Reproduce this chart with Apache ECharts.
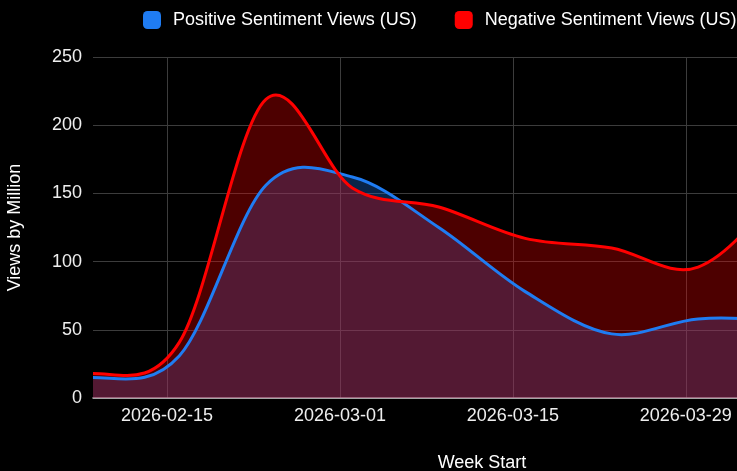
<!DOCTYPE html>
<html>
<head>
<meta charset="utf-8">
<title>Sentiment Views (US)</title>
<script src="https://cdn.jsdelivr.net/npm/echarts@6/dist/echarts.min.js"></script>
<style>
  html, body { margin: 0; padding: 0; background: #000; overflow: hidden; }
  /* the original chart is wider than the window, its right part is cut off */
  #chart { width: 871px; height: 471px; }
</style>
</head>
<body>
<div id="chart"></div>
<script>
// weekly data, week start dates
var weeks = ["2026-02-09", "2026-02-16", "2026-02-23", "2026-03-02", "2026-03-09",
             "2026-03-16", "2026-03-23", "2026-03-30", "2026-04-06"];
var positiveViews = [15, 31, 156, 162, 125, 78, 47, 58, 56];
var negativeViews = [18, 41, 219, 154, 140, 117, 110, 96, 157];
var dateTicks = ["2026-02-15", "2026-03-01", "2026-03-15", "2026-03-29"];

var POS = "Positive Sentiment Views (US)";
var NEG = "Negative Sentiment Views (US)";
var blue = "#1f7cf2";
var red = "#ff0000";
var font = "'Liberation Sans', Arial, sans-serif";

function pairs(vals) {
    return weeks.map(function(w, i) { return [w, vals[i]]; });
}

// catmull-rom curve through the data points (like the sheets "smooth" line)
// flat start, natural spline condition at the end
function curve(api, n) {
    var pts = [];
    for (var i = 0; i < n; i++) {
        pts.push(api.coord([api.value(0, i), api.value(1, i)]));
    }
    var m = [];
    for (var k = 1; k < n - 1; k++) {
        m[k] = [(pts[k + 1][0] - pts[k - 1][0]) / 2, (pts[k + 1][1] - pts[k - 1][1]) / 2];
    }
    m[0] = [pts[1][0] - pts[0][0], 0];
    m[n - 1] = [(3 * (pts[n - 1][0] - pts[n - 2][0]) - m[n - 2][0]) / 2,
                (3 * (pts[n - 1][1] - pts[n - 2][1]) - m[n - 2][1]) / 2];
    var d = "M" + pts[0][0] + " " + pts[0][1];
    for (var j = 0; j < n - 1; j++) {
        d += " C" + (pts[j][0] + m[j][0] / 3) + " " + (pts[j][1] + m[j][1] / 3) +
             " " + (pts[j + 1][0] - m[j + 1][0] / 3) + " " + (pts[j + 1][1] - m[j + 1][1] / 3) +
             " " + pts[j + 1][0] + " " + pts[j + 1][1];
    }
    var base = api.coord([api.value(0, 0), 0])[1];
    return {
        line: d,
        area: d + " L" + pts[n - 1][0] + " " + base + " L" + pts[0][0] + " " + base + " Z"
    };
}

function smoothSeries(name, vals, color, z, filled) {
    return {
        name: name,
        type: "custom",
        z: z,
        silent: true,
        clip: true,
        itemStyle: { color: color },
        encode: { x: 0, y: 1 },
        data: pairs(vals),
        renderItem: function(params, api) {
            if (params.dataIndex !== 0) return null;
            var c = curve(api, vals.length);
            if (filled) {
                return {
                    type: "path",
                    shape: { pathData: c.area },
                    style: { fill: color, opacity: 0.3, stroke: null }
                };
            }
            return {
                type: "path",
                shape: { pathData: c.line },
                style: { fill: "none", stroke: color, lineWidth: 3, lineJoin: "round" }
            };
        }
    };
}

var chart = echarts.init(document.getElementById("chart"));

chart.setOption({
    backgroundColor: "#000",
    animation: false,
    textStyle: { fontFamily: font },
    legend: {
        data: [POS, NEG],
        top: 11,
        left: 143,
        padding: 0,
        icon: "roundRect",
        itemWidth: 18,
        itemHeight: 18,
        itemGap: 38,
        itemStyle: { borderWidth: 0 },
        textStyle: {
            color: "#fff",
            fontSize: 18,
            fontFamily: font,
            padding: [0, 0, 0, 7]
        }
    },
    grid: {
        left: 93,
        right: 0,
        top: 57,
        bottom: 73,
        outerBoundsMode: "none"
    },
    xAxis: {
        type: "time",
        min: "2026-02-09",
        max: "2026-04-13",
        name: "Week Start",
        nameLocation: "middle",
        nameGap: 56,
        nameTextStyle: { color: "#fff", fontSize: 18, fontFamily: font },
        axisLine: { show: true, lineStyle: { color: "#c8c8c8", width: 1.5 } },
        axisTick: { show: false, customValues: dateTicks },
        axisLabel: {
            customValues: dateTicks,
            formatter: "{yyyy}-{MM}-{dd}",
            color: "#eee",
            fontSize: 18,
            fontFamily: font,
            margin: 9
        },
        splitLine: { show: true, lineStyle: { color: "#3c3c3c", width: 1 } }
    },
    yAxis: {
        type: "value",
        min: 0,
        max: 250,
        interval: 50,
        name: "Views by Million",
        nameLocation: "middle",
        nameRotate: 90,
        nameGap: 69,
        nameTextStyle: { color: "#fff", fontSize: 18, fontFamily: font },
        axisLine: { show: false },
        axisTick: { show: false },
        axisLabel: { color: "#eee", fontSize: 18, fontFamily: font, margin: 11 },
        splitLine: { lineStyle: { color: "#3c3c3c", width: 1 } }
    },
    series: [
        // lines on top, areas underneath
        smoothSeries(POS, positiveViews, blue, 4, false),
        smoothSeries(NEG, negativeViews, red, 5, false),
        smoothSeries(POS, positiveViews, blue, 2, true),
        smoothSeries(NEG, negativeViews, red, 3, true)
    ]
});
</script>
</body>
</html>
